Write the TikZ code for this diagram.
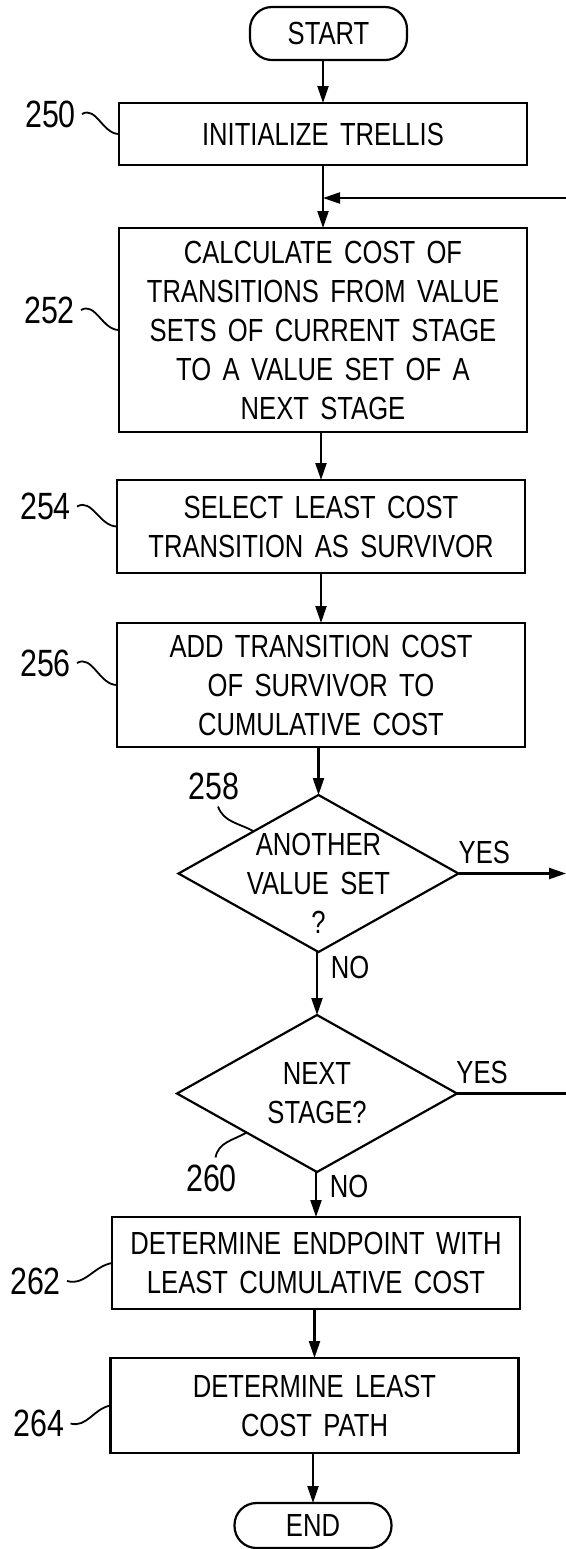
\documentclass[tikz,border=0pt]{standalone}
\usepackage{fontspec}
\setmainfont{Liberation Sans}[FakeStretch=0.8,WordSpace=1.6]
\usetikzlibrary{shapes,arrows.meta,positioning}
\tikzset{>={Triangle[length=8.5pt,width=5.5pt]}}
\tikzset{process box/.style={rectangle,draw,minimum width=204pt,inner sep=0pt,outer sep=0pt,align=center},
         decision node/.style={diamond,draw,minimum width=140pt,minimum height=78.5pt,inner sep=0pt,outer sep=0pt},
         term node/.style={rectangle,rounded corners=11pt,draw,minimum width=78.5pt,inner sep=0pt,outer sep=0pt},
         ref label/.style={font=\fontsize{19}{22}\selectfont,inner sep=0pt},
         leader/.style={line width=0.9pt},
            }

\begin{document}
\begin{tikzpicture}[font=\fontsize{16}{19.5}\selectfont,line width=1.1pt]

    \useasboundingbox (0,0) rectangle (283pt,-774.5pt);
    \coordinate (redge) at (283pt,0);
    \coordinate (loopin) at (283pt,-99pt);

    \node[term node,minimum height=26.5pt] (start) at (164.25pt,-16.75pt) {START};
    \node[process box,minimum height=31pt] (init) [below = 21.5pt of start,xshift=-2.75pt] {INITIALIZE TRELLIS};
    \node[process box,minimum height=102pt] (calccost) [below = 31.5pt of init]
        {CALCULATE COST OF\\TRANSITIONS FROM VALUE\\SETS OF CURRENT STAGE\\TO A VALUE SET OF A\\NEXT STAGE};
    \node[process box,minimum height=46.5pt] (select) [below = 24pt of calccost,xshift=-1pt]
        {SELECT LEAST COST\\TRANSITION AS SURVIVOR};
    \node[process box,minimum height=62pt] (addcost) [below = 25pt of select]
        {ADD TRANSITION COST\\OF SURVIVOR TO\\CUMULATIVE COST};
    \node[decision node,label={[align=center,yshift=-5pt]center:{ANOTHER\\VALUE SET\\?}}] (another)
        [below = 24pt of addcost,xshift=-1.25pt] {};
    \node[decision node,label={[align=center]center:{NEXT\\STAGE?}}] (nextstage)
        [below = 31.5pt of another,xshift=-0.75pt] {};
    \node[process box,minimum height=46pt] (endpoint) [below = 22.5pt of nextstage,xshift=-0.5pt]
        {DETERMINE ENDPOINT WITH\\LEAST CUMULATIVE COST};
    \node[process box,minimum height=47.5pt] (leastpath) [below = 24.5pt of endpoint,xshift=-0.75pt]
        {DETERMINE LEAST\\COST PATH};
    \node[term node,minimum height=22.5pt] (finish) [below = 25pt of leastpath,xshift=-0.75pt] {END};

    \node[ref label] (l250) [left = 21pt of init,yshift=10pt] {250};
    \node[ref label] (l252) [left = 21.5pt of calccost,yshift=10pt] {252};
    \node[ref label] (l254) [left = 22.5pt of select,yshift=10pt] {254};
    \node[ref label] (l256) [left = 22.5pt of addcost,yshift=11pt] {256};
    \node[ref label] (l258) [left = 39pt of another.north,yshift=4.5pt] {258};
    \node[ref label] (l260) [left = 39.5pt of nextstage.south,yshift=-3pt] {260};
    \node[ref label] (l262) [left = 25pt of endpoint,yshift=-9pt] {262};
    \node[ref label] (l264) [left = 22.5pt of leastpath,yshift=-9pt] {264};

    \foreach \a/\b in {start/init,init/calccost,calccost/select,select/addcost,addcost/another,endpoint/leastpath,leastpath/finish}
        \draw[->] (\b.north |- \a.south) -- (\b.north);

    \draw[->] (nextstage.north |- another.south) -- node[right,pos=0.25,xshift=3pt] (no1) {NO} (nextstage.north);
    \draw[->] (endpoint.north |- nextstage.south) -- node[right,pos=0.33,xshift=3pt] (no2) {NO} (endpoint.north);
    \draw[->] (another.east) -- node[above,pos=0.24,yshift=1pt] (yes1) {YES} (redge |- another.east);
    \draw (nextstage.east) -- node[above,pos=0.23,yshift=1pt] (yes2) {YES} (redge |- nextstage.east);
    \draw[->] (loopin) -- (loopin -| init.south);

    \foreach \l/\b in {l250/init,l252/calccost,l254/select,l256/addcost}
        \draw[leader] ([xshift=2.5pt]\l.east) to[out=30,in=180] (\b.west);
    \foreach \l/\b in {l262/endpoint,l264/leastpath}
        \draw[leader] ([xshift=2.5pt]\l.east) to[out=-15,in=190] (\b.west);
    \draw[leader] ([xshift=2pt,yshift=-3pt]l258.south) to[out=-70,in=150] (another.147);
    \draw[leader] ([xshift=2pt,yshift=3pt]l260.north) to[out=80,in=210] (nextstage.209);

\end{tikzpicture}
\end{document}
